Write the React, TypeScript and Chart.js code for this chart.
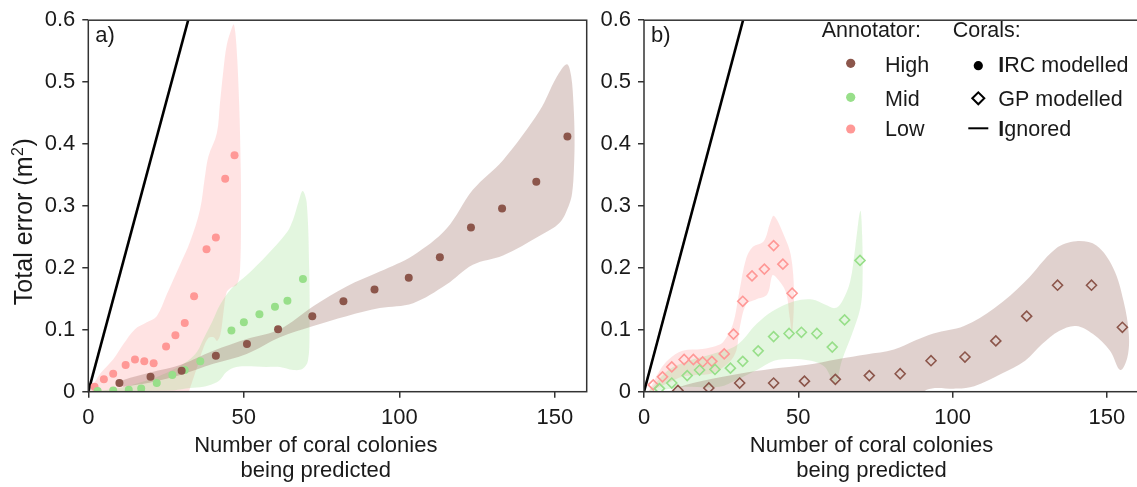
import React, { useEffect, useRef } from 'react';
import { Chart, registerables } from 'chart.js';

Chart.register(...registerables);

const FONT = "'Liberation Sans', Arial, Helvetica, sans-serif";
const TEXT = '#1a1a1a';
const AXIS = '#333333';

const HIGH = '#8c564b';
const MID = '#98df8a';
const LOW = '#ff9896';
const HIGH_BAND = 'rgba(140,86,75,0.27)';
const MID_BAND = 'rgba(152,223,138,0.27)';
const LOW_BAND = 'rgba(255,152,150,0.27)';

const xTicks = [0, 50, 100, 150];
const yTicks = [0, 0.1, 0.2, 0.3, 0.4, 0.5, 0.6];
const X_MAX = 160.2;
const Y_MAX = 0.6;

// ---- Panel a) IRC modelled (circles) ----
const highXA = [10, 20, 30, 41, 51, 61, 72, 82, 92, 103, 113, 123, 133, 144, 154];
const highYA = [0.014, 0.024, 0.034, 0.058, 0.077, 0.101, 0.122, 0.146, 0.165, 0.184, 0.217, 0.265, 0.296, 0.339, 0.412];
const midXA = [3, 8, 13, 17, 22, 27, 31, 36, 46, 50, 55, 60, 64, 69];
const midYA = [0.001, 0.002, 0.003, 0.005, 0.014, 0.027, 0.035, 0.049, 0.099, 0.112, 0.125, 0.137, 0.147, 0.182];
const lowXA = [2, 5, 8, 12, 15, 18, 21, 25, 28, 31, 34, 38, 41, 44, 47];
const lowYA = [0.008, 0.02, 0.029, 0.043, 0.052, 0.049, 0.046, 0.073, 0.091, 0.111, 0.154, 0.23, 0.249, 0.344, 0.382];

// uncertainty bands: upper edge and lower edge (both left -> right, sharing end points)
const highTopA = [[9.5, 0.014], [11.3, 0.019], [20, 0.031], [29.5, 0.043], [40.2, 0.066], [50.9, 0.085], [61.6, 0.101], [72.3, 0.138], [83, 0.17], [93.7, 0.194], [104.4, 0.22], [115.1, 0.263], [123.6, 0.326], [133.3, 0.374], [145.1, 0.454], [150.4, 0.507], [153.8, 0.529], [155.2, 0.51], [156.0, 0.46], [156.3, 0.41], [156.1, 0.36], [155.5, 0.32], [154.4, 0.3]];
const highBotA = [[9.5, 0.014], [11.3, 0.008], [20, 0.015], [29.5, 0.027], [40.2, 0.045], [50.9, 0.061], [61.6, 0.088], [72.3, 0.106], [83, 0.122], [93.7, 0.135], [104.4, 0.143], [115.1, 0.173], [123.6, 0.205], [133.3, 0.22], [145.1, 0.252], [151.5, 0.273], [154.4, 0.3]];
const lowTopA = [[0, 0], [0.6, 0.003], [3.8, 0.029], [8.1, 0.053], [11.3, 0.077], [15, 0.101], [18.8, 0.112], [22, 0.122], [25.2, 0.157], [29.5, 0.205], [32.7, 0.242], [35.9, 0.294], [37.5, 0.348], [38.6, 0.38], [41.3, 0.417], [42.3, 0.465], [43.4, 0.518], [44.5, 0.56], [46.1, 0.587], [46.8, 0.593]];
const lowBotA = [[0, 0], [32.3, 0], [35, 0.04], [37.1, 0.072], [38.7, 0.087], [40.3, 0.088], [41.4, 0.082], [42.5, 0.093], [43.5, 0.13], [44.4, 0.16], [45.6, 0.167], [47.8, 0.173], [48.8, 0.2], [49.1, 0.3], [49, 0.36], [48.5, 0.464], [47.6, 0.56], [46.8, 0.593]];
const midTopA = [[0, 0], [10, 0.006], [20, 0.02], [27, 0.035], [32, 0.05], [35, 0.065], [37, 0.085], [40, 0.115], [42.3, 0.14], [46.1, 0.167], [50.9, 0.188], [57.3, 0.22], [63.8, 0.257], [65.9, 0.279], [67.5, 0.305], [68.9, 0.324]];
const midBotA = [[0, 0], [27.4, 0.002], [32.7, 0.006], [37, 0.008], [40.2, 0.013], [42.3, 0.019], [44.4, 0.032], [47.6, 0.04], [57.3, 0.04], [61.6, 0.04], [65.9, 0.035], [68.9, 0.037], [70.6, 0.05], [71.1, 0.093], [71, 0.199], [70.2, 0.305], [68.9, 0.324]];

// ---- Panel b) GP modelled (diamonds) ----
const highXB = [11, 21, 31, 42, 52, 62, 73, 83, 93, 104, 114, 124, 134, 145, 155];
const highYB = [0.002, 0.006, 0.014, 0.014, 0.017, 0.02, 0.026, 0.029, 0.05, 0.056, 0.082, 0.122, 0.172, 0.172, 0.104];
const midXB = [5, 9, 14, 18, 23, 28, 32, 37, 42, 47, 51, 56, 61, 65, 70];
const midYB = [0.005, 0.014, 0.026, 0.035, 0.036, 0.038, 0.049, 0.066, 0.089, 0.094, 0.096, 0.094, 0.072, 0.116, 0.212];
const lowXB = [3, 6, 9, 13, 16, 19, 22, 26, 29, 32, 35, 39, 42, 45, 48];
const lowYB = [0.011, 0.024, 0.04, 0.052, 0.052, 0.048, 0.049, 0.061, 0.093, 0.146, 0.187, 0.198, 0.236, 0.206, 0.159];

const highTopB = [[8, 0], [11.6, 0.008], [20.2, 0.019], [30.9, 0.029], [41.6, 0.037], [52.4, 0.043], [63.1, 0.053], [72, 0.06], [81, 0.068], [88, 0.083], [93.8, 0.094], [103.7, 0.106], [113.6, 0.135], [123.5, 0.178], [133.4, 0.231], [140, 0.243], [146.6, 0.236], [152.1, 0.199], [155.4, 0.146], [157.1, 0.093], [156.6, 0.055], [154.3, 0.035]];
const highBotB = [[8, 0], [12, -0.03], [85, -0.03], [91.6, 0.003], [101.5, 0.005], [107, 0.009], [115.8, 0.029], [123.5, 0.05], [129, 0.077], [134.5, 0.098], [140, 0.106], [145.5, 0.093], [151, 0.066], [154.3, 0.035]];
const lowTopB = [[1.5, 0], [5.2, 0.035], [8, 0.052], [12.5, 0.066], [18.9, 0.069], [23.3, 0.074], [25.6, 0.08], [28.8, 0.109], [30.9, 0.162], [33.1, 0.215], [35.3, 0.234], [38.8, 0.243], [40.9, 0.273], [42.1, 0.284], [45.4, 0.252], [47.6, 0.22], [48.6, 0.16], [48, 0.095]];
const lowBotB = [[1.5, 0], [7.9, 0.014], [12.3, 0.024], [16.8, 0.027], [22.2, 0.03], [27.7, 0.048], [29.9, 0.066], [30.9, 0.1], [33.1, 0.141], [36.3, 0.149], [39.9, 0.157], [41.6, 0.188], [42.8, 0.185], [45.9, 0.162], [47.2, 0.12], [48, 0.095]];
const midTopB = [[1.5, 0], [7.9, 0.035], [14.5, 0.05], [22.2, 0.061], [30, 0.075], [36.6, 0.11], [41.6, 0.13], [48.7, 0.146], [54.5, 0.149], [58.6, 0.141], [61.9, 0.135], [64.1, 0.145], [66.8, 0.178], [68.5, 0.235], [70.1, 0.292]];
const midBotB = [[1.5, 0], [13.4, 0.008], [24.5, 0.008], [30, 0.019], [36.6, 0.035], [42.1, 0.05], [47.6, 0.053], [54.2, 0.05], [58.6, 0.04], [61.9, 0.013], [64.1, 0.05], [67.4, 0.093], [70.1, 0.135], [70.8, 0.173], [70.7, 0.252], [70.1, 0.292]];

// "Ignored" reference line
const ignoredX = [0, 32.1];
const ignoredY = [0, 0.6];

// Legend text
const annotatorTitle = 'Annotator:';
const annotatorLabels = ['High', 'Mid', 'Low'];
const coralsTitle = 'Corals:';
const coralsLabels = ['IRC modelled', 'GP modelled', 'Ignored'];

const xTitleLines = ['Number of coral colonies', 'being predicted'];
const yTitleMain = 'Total error (m';
const yTitleSup = '2';
const yTitleEnd = ')';

Chart.defaults.font.family = FONT;
Chart.defaults.color = TEXT;

const pts = (xs: number[], ys: number[]) => xs.map((x, i) => ({ x, y: ys[i] }));
const shape = (top: number[][], bot: number[][]) =>
  [...top, ...bot.slice(1, -1).reverse()].map(([x, y]) => ({ x, y }));

type PanelSpec = {
  label: string;
  diamond: boolean;
  yAxisWidth: number;
  padRight: number;
  showYTitle: boolean;
  showLegend: boolean;
  series: { xs: number[]; ys: number[]; color: string }[];
  bands: { top: number[][]; bot: number[][]; color: string }[];
};

const panelA: PanelSpec = {
  label: 'a)',
  diamond: false,
  yAxisWidth: 88.3,
  padRight: 13.3,
  showYTitle: true,
  showLegend: false,
  series: [
    { xs: highXA, ys: highYA, color: HIGH },
    { xs: midXA, ys: midYA, color: MID },
    { xs: lowXA, ys: lowYA, color: LOW },
  ],
  bands: [
    { top: highTopA, bot: highBotA, color: HIGH_BAND },
    { top: midTopA, bot: midBotA, color: MID_BAND },
    { top: lowTopA, bot: lowBotA, color: LOW_BAND },
  ],
};

const panelB: PanelSpec = {
  label: 'b)',
  diamond: true,
  yAxisWidth: 44,
  padRight: 2.6,
  showYTitle: false,
  showLegend: true,
  series: [
    { xs: highXB, ys: highYB, color: HIGH },
    { xs: midXB, ys: midYB, color: MID },
    { xs: lowXB, ys: lowYB, color: LOW },
  ],
  bands: [
    { top: highTopB, bot: highBotB, color: HIGH_BAND },
    { top: midTopB, bot: midBotB, color: MID_BAND },
    { top: lowTopB, bot: lowBotB, color: LOW_BAND },
  ],
};

function drawBoldI(ctx: any, text: string, x: number, y: number, size: number) {
  // first capital "I" appears heavier in the original legend
  if (text.startsWith('I')) {
    ctx.font = `bold ${size}px ${FONT}`;
    ctx.fillText('I', x, y);
    const w = ctx.measureText('I').width;
    ctx.font = `${size}px ${FONT}`;
    ctx.fillText(text.slice(1), x + w, y);
  } else {
    ctx.font = `${size}px ${FONT}`;
    ctx.fillText(text, x, y);
  }
}

function decorPlugin(spec: PanelSpec) {
  return {
    id: 'decor' + spec.label,
    afterDatasetsDraw(chart: any) {
      const { ctx, chartArea: a } = chart;
      ctx.save();
      ctx.strokeStyle = AXIS;
      ctx.lineWidth = 1.5;
      ctx.strokeRect(a.left, a.top, a.right - a.left, a.bottom - a.top);

      ctx.fillStyle = TEXT;
      ctx.font = `22px ${FONT}`;
      ctx.textAlign = 'left';
      ctx.textBaseline = 'alphabetic';
      ctx.fillText(spec.label, a.left + 7, a.top + 22);

      // x axis title (two lines)
      ctx.textAlign = 'center';
      ctx.fillText(xTitleLines[0], a.left + 227.5, 452);
      ctx.fillText(xTitleLines[1], a.left + 227.5, 477);

      if (spec.showYTitle) {
        ctx.save();
        ctx.translate(31.7, 221.7);
        ctx.rotate(-Math.PI / 2);
        ctx.textAlign = 'left';
        const big = `25px ${FONT}`;
        const small = `16px ${FONT}`;
        ctx.font = big;
        const w1 = ctx.measureText(yTitleMain).width;
        const w3 = ctx.measureText(yTitleEnd).width;
        ctx.font = small;
        const w2 = ctx.measureText(yTitleSup).width + 1;
        const start = -(w1 + w2 + w3) / 2;
        ctx.font = big;
        ctx.fillText(yTitleMain, start, 0);
        ctx.font = small;
        ctx.fillText(yTitleSup, start + w1 + 0.5, -9);
        ctx.font = big;
        ctx.fillText(yTitleEnd, start + w1 + w2, 0);
        ctx.restore();
      }

      if (spec.showLegend) {
        const colors = [HIGH, MID, LOW];
        ctx.font = `21.5px ${FONT}`;
        ctx.textAlign = 'left';
        ctx.fillText(annotatorTitle, 221.7, 36.7);
        ctx.fillText(coralsTitle, 352.7, 36.7);
        const markY = [63.3, 97.3, 129];
        const base = [72, 105.5, 135.5];
        const markY2 = [65.7, 98.3, 128.3];
        for (let i = 0; i < 3; i++) {
          ctx.fillStyle = colors[i];
          ctx.beginPath();
          ctx.arc(250.7, markY[i], 4.6, 0, Math.PI * 2);
          ctx.fill();
          ctx.fillStyle = TEXT;
          ctx.font = `21.5px ${FONT}`;
          ctx.fillText(annotatorLabels[i], 285, base[i]);
          drawBoldI(ctx, coralsLabels[i], 398.3, base[i], 21.5);
        }
        ctx.fillStyle = '#000';
        ctx.beginPath();
        ctx.arc(378.3, markY2[0], 4.6, 0, Math.PI * 2);
        ctx.fill();
        ctx.strokeStyle = '#000';
        ctx.lineWidth = 2;
        const r = 6;
        ctx.beginPath();
        ctx.moveTo(378.3 - r, markY2[1]);
        ctx.lineTo(378.3, markY2[1] - r);
        ctx.lineTo(378.3 + r, markY2[1]);
        ctx.lineTo(378.3, markY2[1] + r);
        ctx.closePath();
        ctx.stroke();
        ctx.beginPath();
        ctx.moveTo(368.3, markY2[2]);
        ctx.lineTo(388.3, markY2[2]);
        ctx.stroke();
      }
      ctx.restore();
    },
  };
}

function buildConfig(spec: PanelSpec): any {
  const markSets = spec.series.map((s) => ({
    type: 'line',
    data: pts(s.xs, s.ys),
    showLine: false,
    pointStyle: spec.diamond ? 'rectRot' : 'circle',
    pointRadius: spec.diamond ? 5 : 4,
    pointBackgroundColor: spec.diamond ? 'rgba(0,0,0,0)' : s.color,
    pointBorderColor: s.color,
    pointBorderWidth: spec.diamond ? 1.6 : 0,
    order: 0,
  }));
  const ignoredSet = {
    type: 'line',
    data: pts(ignoredX, ignoredY),
    borderColor: '#000',
    borderWidth: 2.6,
    pointRadius: 0,
    tension: 0,
    fill: false,
    order: 1,
  };
  const bandSets = spec.bands.map((b) => ({
    type: 'line',
    data: shape(b.top, b.bot),
    fill: 'shape',
    backgroundColor: b.color,
    borderColor: 'rgba(0,0,0,0)',
    borderWidth: 0,
    pointRadius: 0,
    tension: 0.35,
    order: 2,
  }));

  return {
    type: 'line',
    data: { datasets: [...markSets, ignoredSet, ...bandSets] },
    options: {
      responsive: false,
      maintainAspectRatio: false,
      animation: false,
      events: [],
      devicePixelRatio: 1,
      layout: { padding: { left: 0, right: spec.padRight, top: 15, bottom: 0 } },
      plugins: { legend: { display: false }, tooltip: { enabled: false } },
      scales: {
        x: {
          type: 'linear',
          min: 0,
          max: X_MAX,
          afterBuildTicks: (s: any) => {
            s.ticks = xTicks.map((v) => ({ value: v }));
          },
          afterFit: (s: any) => {
            s.height = 95.3;
          },
          ticks: {
            font: { size: 22, family: FONT },
            color: TEXT,
            padding: 7,
            maxRotation: 0,
            autoSkip: false,
            callback: (v: any) => String(v),
          },
          grid: { display: true, drawOnChartArea: false, drawTicks: true, tickLength: 6, color: AXIS, lineWidth: 1.5 },
          border: { display: false },
        },
        y: {
          type: 'linear',
          min: 0,
          max: Y_MAX,
          afterBuildTicks: (s: any) => {
            s.ticks = yTicks.map((v) => ({ value: v }));
          },
          afterFit: (s: any) => {
            s.width = spec.yAxisWidth;
          },
          ticks: {
            font: { size: 22, family: FONT },
            color: TEXT,
            padding: 7,
            autoSkip: false,
            callback: (v: any) => String(v),
          },
          grid: { display: true, drawOnChartArea: false, drawTicks: true, tickLength: 6, color: AXIS, lineWidth: 1.5 },
          border: { display: false },
        },
      },
    },
    plugins: [decorPlugin(spec)],
  };
}

function Panel({ spec, left, width, canvasWidth }: { spec: PanelSpec; left: number; width: number; canvasWidth: number }) {
  const ref = useRef<HTMLCanvasElement>(null);
  useEffect(() => {
    const chart = new Chart(ref.current as HTMLCanvasElement, buildConfig(spec));
    return () => chart.destroy();
  }, [spec]);
  return (
    <div style={{ position: 'absolute', left, top: 0, width, height: 487, overflow: 'hidden' }}>
      <canvas ref={ref} width={canvasWidth} height={487} style={{ display: 'block', width: canvasWidth, height: 487 }} />
    </div>
  );
}

export default function App() {
  return (
    <div style={{ position: 'absolute', left: 0, top: 0, width: 1137, height: 487, overflow: 'hidden', background: '#fff' }}>
      <Panel spec={panelA} left={0} width={600} canvasWidth={600} />
      <Panel spec={panelB} left={600} width={537} canvasWidth={545} />
    </div>
  );
}
